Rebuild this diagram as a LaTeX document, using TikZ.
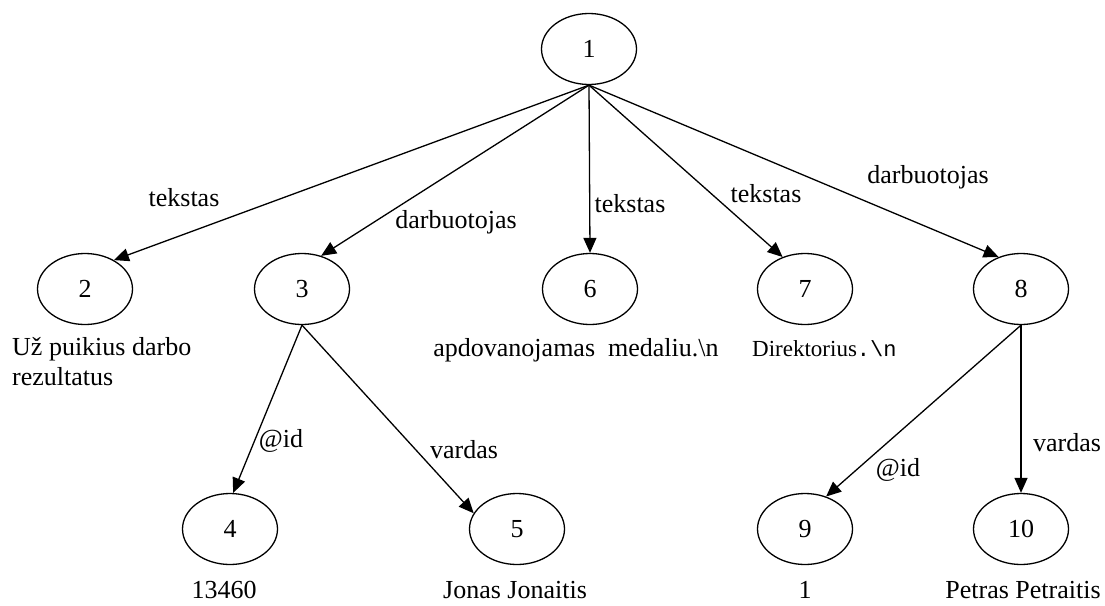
\documentclass[tikz,border=0pt]{standalone}
\usepackage{fontspec}
\setmainfont{Liberation Serif}
\newfontfamily\monofont{Liberation Mono}
\usetikzlibrary{arrows.meta,shapes.geometric,positioning}

\begin{document}
\begin{tikzpicture}[x=1pt,y=-1pt,
    knot/.style={ellipse,draw,line width=1.3pt,minimum width=95pt,minimum height=71pt,inner sep=0pt,font=\fontsize{26}{30}\selectfont},
    tag/.style={inner sep=0pt,font=\fontsize{26}{30}\selectfont},
    link/.style={line width=1.3pt,-{Triangle[length=15pt,width=13pt]}}]

    \useasboundingbox (0,0) rectangle (1105,605);

    % viršūnės
    \node[knot] (n1) at (589,49) {1};
    \node[knot] (n2) at (85,289) {2};
    \node[knot] (n3) at (302,289) {3};
    \node[knot] (n6) at (590,289) {6};
    \node[knot] (n7) at (805,289) {7};
    \node[knot] (n8) at (1021,289) {8};
    \node[knot] (n4) at (230,529) {4};
    \node[knot] (n5) at (517,529) {5};
    \node[knot] (n9) at (805,529) {9};
    \node[knot] (n10) at (1021,529) {10};

    % reikšmės po viršūnėmis
    \node[tag,anchor=west,align=left] (v2) at (12,362) {Už puikius darbo\\rezultatus};
    \node[tag] (v6) at (576,350) {apdovanojamas~~medaliu.\textbackslash n};
    \node[tag,anchor=west,font=\fontsize{23}{28}\selectfont] (v7) at (752,349)
        {Direktorius{\monofont\fontsize{22}{26}\selectfont .\textbackslash n}};
    \node[tag] (v4) at (224,590) {13460};
    \node[tag] (v5) at (515,590) {Jonas Jonaitis};
    \node[tag] (v9) at (805,590) {1};
    \node[tag] (v10) at (1023,590) {Petras Petraitis};

    % briaunos
    \draw[link] (n1.south) -- (n2.45);
    \draw[link] (n1.south) -- (n3.60);
    \draw[link] (n1.south) -- (n6.north);
    \draw[link] (n1.south) -- (n7.125);
    \draw[link] (n1.south) -- (n8.125);
    \draw[link] (n3.south) -- (n4.85);
    \draw[link] (n3.south) -- (n5.160);
    \draw[link] (n8.south) -- (n9.57);
    \draw[link] (n8.south) -- (n10.north);

    % briaunų žymės
    \node[tag] (e12) at (184,198) {tekstas};
    \node[tag] (e13) at (456,222) {darbuotojas};
    \node[tag] (e16) at (630,204) {tekstas};
    \node[tag] (e17) at (766,194) {tekstas};
    \node[tag] (e18) at (928,177) {darbuotojas};
    \node[tag] (e34) at (281,441) {@id};
    \node[tag] (e35) at (464,450) {vardas};
    \node[tag] (e89) at (898,470) {@id};
    \node[tag] (e810) at (1067,443) {vardas};
\end{tikzpicture}
\end{document}
